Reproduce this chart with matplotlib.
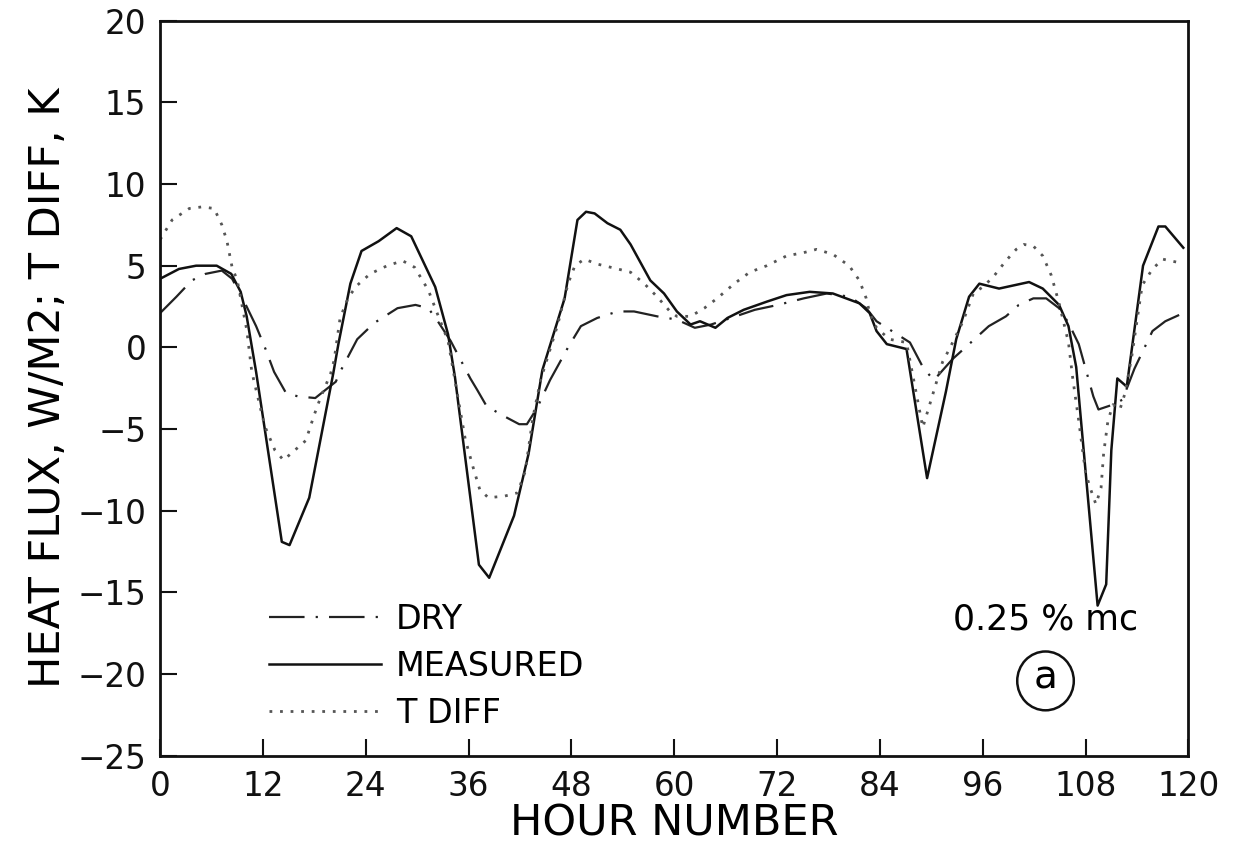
import matplotlib
matplotlib.use('Agg')
import matplotlib.pyplot as plt
from matplotlib.patches import Ellipse

# hours / values
dry_t = [0, 1.9, 3.7, 5.3, 7.2, 8.4, 10.0, 11.2, 12.3, 13.3, 14.7, 16.1, 18.1, 19.3, 20.5,
         21.0, 23.0, 25.0, 27.7, 29.8, 31.3, 32.4, 33.9, 36.2, 37.0, 38.1, 40.1, 41.9, 42.8,
         44.0, 45.5, 47.6, 49.1, 51.0, 53.4, 55.3, 58.0, 60.3, 62.4, 64.3, 66.6, 69.4, 72.1,
         75.1, 77.8, 80.5, 82.4, 83.6, 86.0, 87.5, 89.1, 90.3, 92.5, 94.4, 96.7, 98.7, 100.2,
         101.9, 103.4, 104.9, 106.0, 107.2, 108.9, 109.5, 111.2, 112.3, 113.7, 115.8, 117.3, 119.4]
dry_v = [2.1, 3.1, 4.1, 4.5, 4.7, 4.2, 2.6, 1.3, -0.1, -1.5, -2.8, -3.0, -3.1, -2.6, -2.1,
         -1.5, 0.5, 1.5, 2.4, 2.6, 2.4, 1.6, 0.4, -1.9, -2.6, -3.6, -4.2, -4.7, -4.7,
         -3.7, -2.0, 0.0, 1.3, 1.8, 2.2, 2.2, 1.9, 1.7, 1.2, 1.4, 1.8, 2.3, 2.6,
         3.0, 3.3, 3.1, 2.4, 1.6, 0.8, 0.3, -1.3, -2.0, -0.7, 0.2, 1.3, 1.9, 2.6,
         3.0, 3.0, 2.4, 1.5, 0.2, -3.0, -3.8, -3.5, -3.2, -1.3, 1.0, 1.6, 2.1]

meas_t = [0, 2.2, 4.2, 6.6, 8.3, 9.4, 10.1, 11.2, 14.2, 15.1, 17.4, 20.2, 20.8, 22.2, 23.5,
          25.5, 27.6, 29.3, 32.1, 33.6, 34.4, 37.2, 38.4, 41.3, 43.0, 44.6, 47.2, 48.7, 49.7,
          50.7, 52.2, 53.7, 54.9, 57.2, 58.8, 60.3, 61.9, 63.0, 64.8, 66.2, 68.1, 70.8, 73.1,
          75.8, 78.5, 81.6, 82.8, 83.6, 84.8, 87.1, 89.5, 91.7, 92.9, 94.4, 95.6, 97.9, 101.4,
          103.0, 104.9, 106.0, 106.9, 109.4, 110.4, 111.0, 111.7, 112.8, 114.7, 116.5, 117.3, 119.4]
meas_v = [4.2, 4.8, 5.0, 5.0, 4.5, 3.4, 1.9, -1.5, -11.9, -12.1, -9.2, -1.6, 0.2, 3.9, 5.9,
          6.5, 7.3, 6.8, 3.7, 0.8, -1.8, -13.3, -14.1, -10.3, -6.5, -1.4, 3.0, 7.8, 8.3,
          8.2, 7.6, 7.2, 6.3, 4.1, 3.3, 2.2, 1.4, 1.6, 1.2, 1.8, 2.3, 2.8, 3.2,
          3.4, 3.3, 2.7, 2.1, 1.0, 0.2, -0.1, -8.0, -2.7, 0.5, 3.1, 3.9, 3.6, 4.0,
          3.6, 2.6, 1.3, -1.2, -15.8, -14.5, -6.3, -1.9, -2.4, 5.0, 7.4, 7.4, 6.1]

tdiff_t = [0, 1.4, 3.4, 4.9, 6.3, 7.2, 7.8, 8.4, 9.0, 10.1, 10.7, 12.2, 13.4, 14.4, 15.7,
           17.0, 18.0, 18.7, 19.9, 20.3, 21.0, 22.0, 23.0, 24.5, 26.5, 28.3, 29.7, 31.3, 32.4,
           33.6, 34.2, 35.6, 36.5, 37.3, 38.3, 40.2, 41.7, 42.6, 43.5, 44.4, 46.4, 47.6, 48.4,
           49.5, 51.0, 53.4, 54.9, 56.5, 58.0, 59.5, 60.3, 61.9, 63.5, 65.0, 67.0, 68.8, 70.8,
           73.1, 75.1, 76.6, 78.5, 80.4, 81.6, 82.4, 82.8, 83.6, 85.1, 87.1, 89.0, 91.3, 92.1,
           93.7, 94.9, 96.0, 97.2, 98.7, 99.9, 100.8, 101.9, 103.0, 104.0, 104.9, 106.0, 106.5,
           107.2, 108.0, 108.6, 109.2, 109.8, 110.1, 110.6, 111.2, 112.0, 112.6, 113.4, 114.6,
           115.8, 117.0, 118.8]
tdiff_v = [6.6, 7.8, 8.5, 8.6, 8.5, 7.5, 6.5, 4.9, 4.1, 1.1, -1.5, -4.8, -6.3, -6.9, -6.3,
           -5.7, -4.1, -3.1, -1.6, -0.8, 1.8, 3.1, 3.8, 4.5, 5.0, 5.3, 4.9, 3.5, 2.0,
           0.4, -1.4, -5.6, -7.3, -8.7, -9.2, -9.1, -8.9, -7.6, -4.3, -2.0, 1.4, 3.9, 5.0,
           5.4, 5.1, 4.8, 4.6, 3.9, 3.1, 2.2, 1.9, 1.9, 2.4, 3.0, 3.9, 4.6, 5.0,
           5.6, 5.8, 6.0, 5.7, 5.0, 4.1, 3.0, 2.1, 1.2, 0.5, 0.3, -4.9, -0.9, -0.1,
           1.6, 3.3, 3.7, 4.3, 5.3, 6.0, 6.3, 6.2, 5.6, 4.4, 2.7, 0.3, -1.9,
           -4.5, -7.7, -8.7, -9.6, -8.6, -6.5, -4.5, -3.5, -3.8, -2.8, -0.5, 3.8,
           4.8, 5.4, 5.2]

xticks = [0, 12, 24, 36, 48, 60, 72, 84, 96, 108, 120]
yticks = [-25, -20, -15, -10, -5, 0, 5, 10, 15, 20]

plt.rcParams['font.family'] = ['DejaVu Sans']

fig = plt.figure(figsize=(12.51, 8.58), dpi=100)
ax = fig.add_axes([0.128, 0.119, 0.822, 0.857])

ax.plot(dry_t, dry_v, color='#222222', lw=1.6, linestyle=(0, (16, 5, 1, 5)), label='DRY')
ax.plot(meas_t, meas_v, color='#111111', lw=1.8, label='MEASURED')
ax.plot(tdiff_t, tdiff_v, color='#555555', lw=2.0, linestyle=(0, (1, 2.8)), label='T DIFF')

ax.set_xlim(0, 120)
ax.set_ylim(-25, 20)
ax.set_xticks(xticks)
ax.set_yticks(yticks)
ax.tick_params(direction='in', length=12, width=1.5, labelsize=23.5, pad=10,
               top=False, right=False, colors='#111111')
for s in ax.spines.values():
    s.set_linewidth(2)
    s.set_color('#111111')

ax.set_xlabel('HOUR NUMBER', fontsize=31, labelpad=0)
ax.set_ylabel('HEAT FLUX, W/M2; T DIFF, K', fontsize=31, labelpad=6)

ax.legend(loc='center left', bbox_to_anchor=(0.09, 0.122), frameon=False,
          fontsize=24, handlelength=3.35, handletextpad=0.45, labelspacing=0.42,
          borderpad=0)

ax.text(0.861, 0.186, '0.25 % mc', transform=ax.transAxes, ha='center', va='center',
        fontsize=25)
ax.add_patch(Ellipse((0.861, 0.102), 0.055, 0.08, transform=ax.transAxes,
                     fill=False, lw=1.8, color='#111111'))
ax.text(0.861, 0.106, 'a', transform=ax.transAxes, ha='center', va='center', fontsize=28)

fig.savefig('out.png', dpi=100)
